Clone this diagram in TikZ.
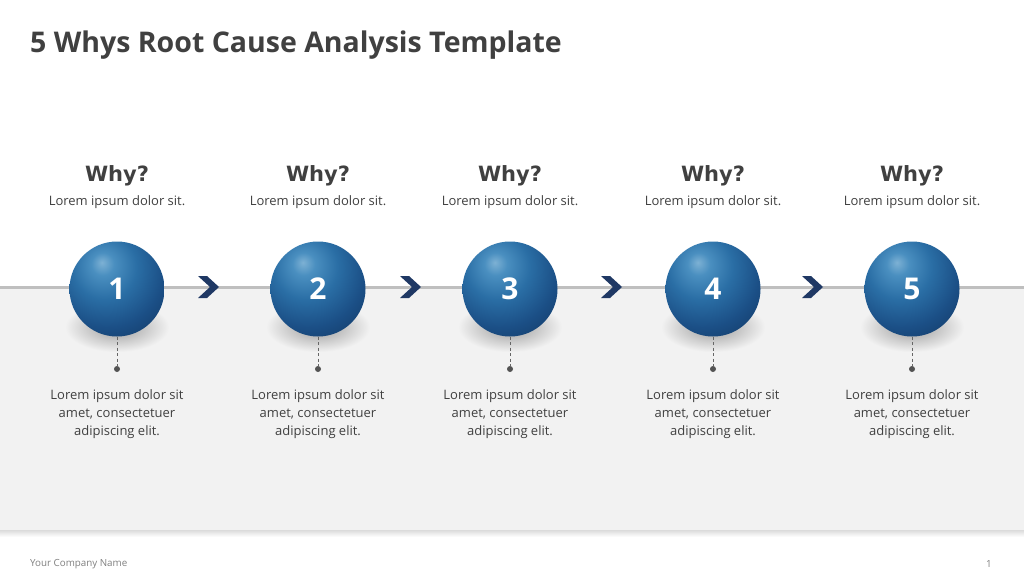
\documentclass[tikz,border=0pt]{standalone}
\usepackage{fontspec}
\setmainfont{Open Sans}
\newfontfamily\whyfont[BoldFont={DejaVu Sans Bold}]{DejaVu Sans}
\usetikzlibrary{calc}
\definecolor{txt}{HTML}{404040}
\definecolor{band}{HTML}{F2F2F2}
\definecolor{linegray}{HTML}{BFBFBF}
\definecolor{navy}{HTML}{1F3864}
\definecolor{footgray}{HTML}{808080}
\definecolor{sphA}{HTML}{7DB1D4}
\definecolor{sphB}{HTML}{4A8FC0}
\definecolor{sphC}{HTML}{2A6EA5}
\definecolor{sphD}{HTML}{1B4F86}
\definecolor{sphE}{HTML}{123863}
\pgfdeclareradialshading{sphere}{\pgfpoint{-8bp}{14bp}}{%
  color(0bp)=(sphA);
  color(6bp)=(sphB);
  color(17bp)=(sphC);
  color(30bp)=(sphD);
  color(44bp)=(sphE);
  color(100bp)=(sphE)}
\tikzset{
  title/.style={anchor=west, font=\fontsize{28.5}{34}\selectfont\bfseries, text=txt, inner sep=0pt},
  why/.style={font=\whyfont\fontsize{21}{25}\selectfont\bfseries, text=txt, inner sep=0pt},
  sub/.style={font=\fontsize{13}{15}\selectfont, text=txt, inner sep=0pt},
  desc/.style={font=\fontsize{13}{18}\selectfont, text=txt, align=center, inner sep=0pt, anchor=north},
  ball/.style={circle, minimum size=95pt, inner sep=0pt, shading=sphere, text=white,
    font=\fontsize{30}{36}\selectfont\bfseries},
  chev/.style={fill=navy},
  dot/.style={circle, fill=txt!90, minimum size=6pt, inner sep=0pt},
  foot/.style={font=\fontsize{9.8}{11}\selectfont, text=footgray, inner sep=0pt}
}
\begin{document}
\begin{tikzpicture}[x=1pt,y=-1pt]
\useasboundingbox (0,0) rectangle (1024,576);
\fill[white] (0,0) rectangle (1024,576);
% band
\fill[band] (0,287) rectangle (1024,530);
\shade[top color=black!14, bottom color=white] (0,530) rectangle (1024,537);
\draw[linegray, line width=3pt] (0,287) -- (1024,287);
% title
\node[title] (t) at (30,45) {5 Whys Root Cause Analysis Template};
% steps
\foreach \n/\x in {1/117,2/318,3/510,4/713,5/912}{
  \shade[inner color=black!40, outer color=band] (\x,327) ellipse [x radius=52, y radius=25];
  \node[ball] (b\n) at (\x,289) {\n};
  \node[why] (w\n) at (\x,176) {Why?};
  \node[sub] (s\n) at (\x,202) {Lorem ipsum dolor sit.};
  \node[dot] (d\n) at (\x,369) {};
  \draw[txt!80, dash pattern=on 3pt off 2.5pt, line width=0.9pt] (b\n.south) -- (d\n.center);
  \node[desc] (l\n) at (\x,389) {Lorem ipsum dolor sit\\amet, consectetuer\\adipiscing elit.};
}
% chevrons
\foreach \c in {209,411,612,813}{
  \fill[chev] (\c-11,276) -- (\c-2,276) -- (\c+10,287) -- (\c-2,298) -- (\c-11,298) -- (\c+1,287) -- cycle;
}
% footer
\node[foot, anchor=west] (fc) at (30,564) {Your Company Name};
\node[foot] (pg) at (989,564) {1};
\end{tikzpicture}
\end{document}
